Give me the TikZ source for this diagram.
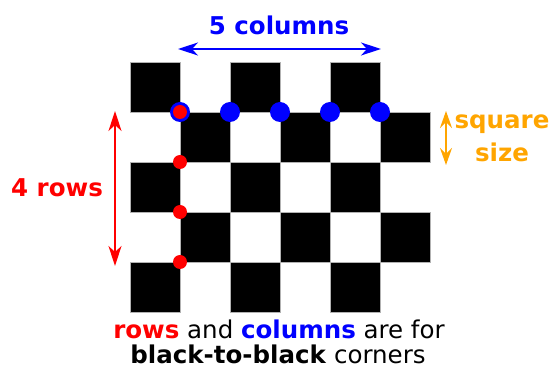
\documentclass[tikz,border=0pt]{standalone}
\usepackage{fontspec}
\setmainfont{DejaVu Sans}
\usetikzlibrary{arrows.meta}
\definecolor{rowred}{RGB}{255,0,0}
\definecolor{colblue}{RGB}{0,0,255}
\definecolor{sizeorange}{RGB}{255,165,0}
\begin{document}
\begin{tikzpicture}[x=1pt,y=-1pt,
  cell/.style={fill=black,draw=gray!60,line width=0.6pt},
  measure/.style={line width=1.6pt,{Stealth[length=20pt,width=13pt,inset=6pt]}-{Stealth[length=20pt,width=13pt,inset=6pt]}},
  bigbold/.style={font=\fontsize{24.5}{28}\selectfont\bfseries,inner sep=0pt},
  caption/.style={font=\fontsize{24.5}{36}\selectfont,inner sep=0pt,text depth=0pt},
  coldot/.style={circle,fill=colblue,minimum size=20pt,inner sep=0pt},
  rowdot/.style={circle,fill=rowred,minimum size=14pt,inner sep=0pt}]
\useasboundingbox (0,0) rectangle (550,371);

% checkerboard: 5 rows, 6 columns of 50pt squares
\foreach \r in {0,...,4}{
  \foreach \c in {0,...,5}{
    \ifodd\numexpr\r+\c\relax\else
      \draw[cell] (130+50*\c,62+50*\r) rectangle ++(50,50);
    \fi
  }
}

% black-to-black corners along the top edge of row 2
\foreach \i in {0,...,4}{
  \node[coldot] (c\i) at (180+50*\i,112) {};
}
% black-to-black corners down the left edge of column 2
\foreach \i in {0,...,3}{
  \node[rowdot] (r\i) at (180,112+50*\i) {};
}

% measuring arrows
\coordinate (colL) at (178,49);
\coordinate (colR) at (381,49);
\draw[measure,colblue] (colL) -- (colR);
\coordinate (rowT) at (115,111);
\coordinate (rowB) at (115,266);
\draw[measure,rowred] (rowT) -- (rowB);
\coordinate (sqT) at (446,111);
\coordinate (sqB) at (446,165);
\draw[line width=1.6pt,sizeorange,{Stealth[length=17pt,width=12pt,inset=6pt]}-{Stealth[length=17pt,width=12pt,inset=6pt]}] (sqT) -- (sqB);

% labels
\node[bigbold,text=colblue,anchor=base] (collabel) at (279,34.5) {5 columns};
\node[bigbold,text=rowred,anchor=base] (rowlabel) at (57,197) {4 rows};
\node[bigbold,text=sizeorange,anchor=base] (sizelabel1) at (502,129) {square};
\node[bigbold,text=sizeorange,anchor=base] (sizelabel2) at (502,162) {size};

\node[caption,anchor=base] (cap1) at (279,339) {\textbf{\color{rowred}rows} and \textbf{\color{colblue}columns} are for};
\node[caption,anchor=base] (cap2) at (278,364) {\textbf{black-to-black} corners};
\end{tikzpicture}
\end{document}
